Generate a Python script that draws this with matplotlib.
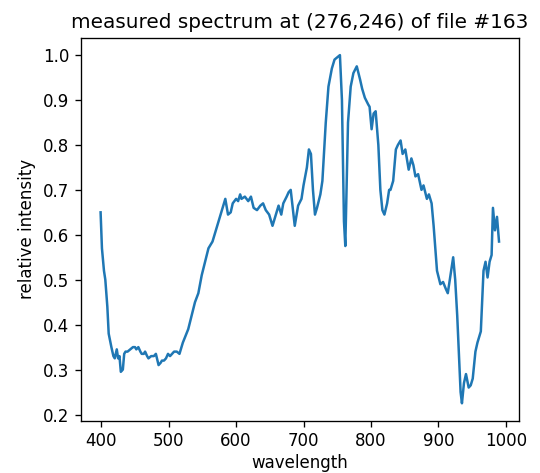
import numpy as np
import matplotlib
matplotlib.use("Agg")
import matplotlib.pyplot as plt

wavelength = np.array([
    399, 401, 404, 406, 409, 411, 415, 418, 420, 423, 425, 427, 429, 432, 434,
    436, 439, 443, 447, 450, 452, 455, 458, 460, 463, 465, 468, 470, 474, 478,
    481, 485, 488, 490, 493, 496, 499, 502, 505, 508, 512, 516, 519, 521, 525,
    529, 534, 539, 544, 549, 554, 559, 565, 570, 575, 580, 584, 588, 592, 595,
    600, 603, 606, 608, 613, 618, 622, 626, 631, 636, 640, 644, 649, 654, 658,
    663, 667, 670, 675, 678, 681, 684, 687, 692, 697, 700, 705, 708, 711, 714,
    717, 720, 725, 728, 731, 733, 737, 742, 746, 750, 754, 757, 760, 762, 766,
    770, 774, 779, 784, 787, 791, 796, 798, 801, 804, 807, 811, 814, 817, 820,
    824, 827, 829, 833, 837, 840, 844, 847, 851, 856, 860, 863, 866, 870, 875,
    878, 883, 886, 890, 893, 898, 903, 907, 911, 914, 916, 920, 922, 925, 928,
    930, 933, 935, 938, 941, 945, 948, 951, 955, 958, 963, 967, 970, 973, 976,
    979, 981, 984, 987, 990])

intensity = np.array([
    0.65, 0.57, 0.52, 0.50, 0.44, 0.38, 0.35, 0.33, 0.325, 0.345, 0.325, 0.33, 0.295, 0.30, 0.335,
    0.34, 0.34, 0.345, 0.35, 0.35, 0.345, 0.35, 0.34, 0.335, 0.335, 0.34, 0.33, 0.325, 0.33, 0.33,
    0.335, 0.31, 0.315, 0.32, 0.32, 0.325, 0.335, 0.33, 0.335, 0.34, 0.34, 0.335, 0.35, 0.36, 0.375,
    0.39, 0.42, 0.45, 0.47, 0.51, 0.54, 0.57, 0.585, 0.61, 0.635, 0.66, 0.68, 0.645, 0.65, 0.67,
    0.68, 0.675, 0.69, 0.68, 0.685, 0.675, 0.685, 0.66, 0.655, 0.665, 0.67, 0.655, 0.645, 0.62, 0.64,
    0.665, 0.645, 0.67, 0.685, 0.695, 0.70, 0.66, 0.62, 0.665, 0.68, 0.71, 0.75, 0.79, 0.78, 0.70,
    0.645, 0.66, 0.69, 0.72, 0.80, 0.85, 0.93, 0.97, 0.99, 0.995, 1.0, 0.90, 0.63, 0.575, 0.85,
    0.93, 0.96, 0.975, 0.945, 0.925, 0.905, 0.89, 0.885, 0.835, 0.87, 0.875, 0.80, 0.70, 0.655, 0.645,
    0.67, 0.70, 0.70, 0.72, 0.79, 0.80, 0.81, 0.78, 0.79, 0.745, 0.77, 0.755, 0.73, 0.735, 0.70,
    0.71, 0.68, 0.69, 0.67, 0.62, 0.52, 0.49, 0.495, 0.48, 0.47, 0.49, 0.53, 0.55, 0.50, 0.42,
    0.35, 0.25, 0.225, 0.27, 0.29, 0.26, 0.265, 0.28, 0.34, 0.36, 0.385, 0.52, 0.54, 0.505, 0.54,
    0.555, 0.66, 0.61, 0.64, 0.585])

fig = plt.figure(figsize=(4.5, 473 / 120), dpi=120)
ax = fig.add_axes([0.1494, 0.1106, 0.8116, 0.8097])
ax.plot(wavelength, intensity)
ax.set_title('measured spectrum at (276,246) of file #163')
ax.set_xlabel('wavelength', labelpad=2)
ax.set_ylabel('relative intensity')
fig.savefig('out.png', dpi=120)
